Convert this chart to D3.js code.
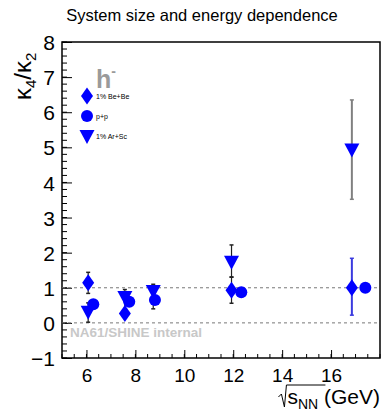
<!DOCTYPE html>
<html>
<head>
<meta charset="utf-8">
<script src="https://cdn.jsdelivr.net/npm/d3@7"></script>
<style>
  body { margin: 0; background: #fff; }
  text { font-family: "Liberation Sans", Arial, sans-serif; }
</style>
</head>
<body>
<div id="chart"></div>
<script>
// Data
var beX = [6.07, 7.57, 11.93, 16.85];
var beY = [1.14, 0.27, 0.93, 1.0];
var beLo = [0.84, 0.22, 0.56, 0.22];
var beHi = [1.44, 0.33, 1.31, 1.84];

var ppX = [6.28, 7.75, 8.8, 12.33, 17.4];
var ppY = [0.53, 0.6, 0.65, 0.87, 1.0];
var ppLo = [0.5, 0.55, 0.6, 0.83, 0.97];
var ppHi = [0.58, 0.65, 0.7, 0.91, 1.03];

var arX = [6.07, 7.57, 8.73, 11.93, 16.85];
var arY = [0.32, 0.74, 0.91, 1.74, 4.94];
var arLo = [0.02, 0.3, 0.4, 1.3, 3.52];
var arHi = [0.57, 0.95, 1.1, 2.22, 6.35];

var xTicks = [6, 8, 10, 12, 14, 16];
var yTicks = [-1, 0, 1, 2, 3, 4, 5, 6, 7, 8];
var refLines = [0, 1];

var svgWidth = 382, svgHeight = 412;
var margin = { top: 42, right: 2, bottom: 54, left: 62 };
var chartWidth = svgWidth - margin.left - margin.right;
var chartHeight = svgHeight - margin.top - margin.bottom;

var svg = d3.select("#chart").append("svg")
    .attr("width", svgWidth)
    .attr("height", svgHeight);

var chartGroup = svg.append("g")
    .attr("transform", `translate(${margin.left}, ${margin.top})`);

var xScale = d3.scaleLinear().domain([5, 18]).range([0, chartWidth]);
var yScale = d3.scaleLinear().domain([-1, 8]).range([chartHeight, 0]);

// title
svg.append("text")
    .attr("x", 202).attr("y", 21)
    .attr("text-anchor", "middle")
    .attr("font-size", "16.5px")
    .text("System size and energy dependence");

// minor ticks
chartGroup.selectAll("line.ymin")
    .data(d3.range(-1, 8.001, 0.2))
    .enter().append("line")
    .attr("x1", 0).attr("x2", 5)
    .attr("y1", d => yScale(d)).attr("y2", d => yScale(d))
    .attr("stroke", "black").attr("stroke-width", 1);

chartGroup.selectAll("line.xmin")
    .data(d3.range(5, 18.001, 0.5))
    .enter().append("line")
    .attr("x1", d => xScale(d)).attr("x2", d => xScale(d))
    .attr("y1", chartHeight).attr("y2", chartHeight - 4)
    .attr("stroke", "black").attr("stroke-width", 1);

// axes
var yAxis = d3.axisLeft(yScale).tickValues(yTicks).tickSize(-10).tickPadding(14)
    .tickFormat(d => d < 0 ? "\u2212" + Math.abs(d) : d);
var xAxis = d3.axisBottom(xScale).tickValues(xTicks).tickSize(-8).tickPadding(14);

var gy = chartGroup.append("g").call(yAxis);
gy.select(".domain").remove();
gy.selectAll("text").attr("font-size", "21px").attr("font-family", "Liberation Sans, Arial, sans-serif")
    .attr("dx", "7px").attr("dy", "0.36em");

var gx = chartGroup.append("g")
    .attr("transform", `translate(0, ${chartHeight})`)
    .call(xAxis);
gx.select(".domain").remove();
gx.selectAll("text").attr("font-size", "19px").attr("font-family", "Liberation Sans, Arial, sans-serif")
    .attr("dy", "0.55em");

// frame
chartGroup.append("rect")
    .attr("x", 0).attr("y", 0)
    .attr("width", chartWidth).attr("height", chartHeight)
    .attr("fill", "none").attr("stroke", "black").attr("stroke-width", 1.5);

// reference lines
chartGroup.selectAll("line.ref")
    .data(refLines)
    .enter().append("line")
    .attr("x1", 0).attr("x2", chartWidth)
    .attr("y1", d => yScale(d)).attr("y2", d => yScale(d))
    .attr("stroke", "#777").attr("stroke-width", 1)
    .attr("stroke-dasharray", "3,3");

// watermark
chartGroup.append("text")
    .attr("x", 8).attr("y", yScale(0) + 14)
    .attr("font-size", "13.5px").attr("font-weight", "bold")
    .attr("fill", "#c8c8c8")
    .text("NA61/SHINE internal");

// h- label
chartGroup.append("text")
    .attr("x", 34).attr("y", 46)
    .attr("font-size", "25px").attr("font-weight", "bold")
    .attr("fill", "#9a9a9a")
    .text("h")
    .append("tspan").attr("dy", "-12").attr("font-size", "14px").text("-");

var blue = "#0000ff";
var diamond = "M0,-8.5L6,0L0,8.5L-6,0Z";
var triangle = "M-7.5,-6L7.5,-6L0,8Z";

function errorBars(xs, los, his, color, width) {
    var g = chartGroup.append("g");
    xs.forEach(function (x, i) {
        g.append("line")
            .attr("x1", xScale(x)).attr("x2", xScale(x))
            .attr("y1", yScale(los[i])).attr("y2", yScale(his[i]))
            .attr("stroke", color).attr("stroke-width", width);
        [los[i], his[i]].forEach(function (v) {
            g.append("line")
                .attr("x1", xScale(x) - 2).attr("x2", xScale(x) + 2)
                .attr("y1", yScale(v)).attr("y2", yScale(v))
                .attr("stroke", color).attr("stroke-width", 1.5);
        });
    });
}

// error bars
errorBars(arX.slice(0, 4), arLo.slice(0, 4), arHi.slice(0, 4), "#222", 1.2);
errorBars(arX.slice(4), arLo.slice(4), arHi.slice(4), "#808080", 2);
errorBars(beX.slice(0, 3), beLo.slice(0, 3), beHi.slice(0, 3), "#222", 1.2);
errorBars(beX.slice(3), beLo.slice(3), beHi.slice(3), "#3a3adf", 2);
errorBars(ppX, ppLo, ppHi, "#222", 1);

// markers
chartGroup.selectAll("path.ar")
    .data(arX)
    .enter().append("path")
    .attr("d", triangle)
    .attr("transform", (d, i) => `translate(${xScale(d)}, ${yScale(arY[i])})`)
    .attr("fill", blue);

chartGroup.selectAll("path.be")
    .data(beX)
    .enter().append("path")
    .attr("d", diamond)
    .attr("transform", (d, i) => `translate(${xScale(d)}, ${yScale(beY[i])})`)
    .attr("fill", blue);

chartGroup.selectAll("circle.pp")
    .data(ppX)
    .enter().append("circle")
    .attr("cx", d => xScale(d))
    .attr("cy", (d, i) => yScale(ppY[i]))
    .attr("r", 6)
    .attr("fill", blue);

// legend
var legendItems = [
    { label: "1% Be+Be", shape: "diamond" },
    { label: "p+p", shape: "circle" },
    { label: "1% Ar+Sc", shape: "triangle" }
];
var legend = chartGroup.append("g").attr("transform", "translate(25, 54)");
legendItems.forEach(function (item, i) {
    var row = legend.append("g").attr("transform", `translate(0, ${i * 20})`);
    if (item.shape === "circle") {
        row.append("circle").attr("r", 6).attr("fill", blue);
    } else {
        row.append("path").attr("d", item.shape === "diamond" ? diamond : triangle).attr("fill", blue);
    }
    row.append("text")
        .attr("x", 9).attr("y", 3)
        .attr("font-size", "7px")
        .text(item.label);
});

// axis titles
var ylab = svg.append("text")
    .attr("transform", "translate(31, 100) rotate(-90)")
    .attr("font-size", "24px");
ylab.append("tspan").text("\u03ba");
ylab.append("tspan").attr("dy", 5).attr("font-size", "15px").text("4");
ylab.append("tspan").attr("dy", -5).text("/\u03ba");
ylab.append("tspan").attr("dy", 5).attr("font-size", "15px").text("2");

var xlab = svg.append("text")
    .attr("x", 380).attr("y", 404)
    .attr("text-anchor", "end")
    .attr("font-size", "21px");
xlab.append("tspan").text("s");
xlab.append("tspan").attr("dy", 5).attr("font-size", "14px").text("NN");
xlab.append("tspan").attr("dy", -5).text(" (GeV)");

// radical sign over s_NN
var xb = xlab.node().getBBox();
var rx = xb.x, ry = 385;
svg.append("path")
    .attr("d", `M${rx - 9},${ry + 12} L${rx - 6},${ry + 9} L${rx - 3},${ry + 22} L${rx - 1},${ry} L${rx + 38},${ry}`)
    .attr("fill", "none").attr("stroke", "black").attr("stroke-width", 1);
</script>
</body>
</html>
